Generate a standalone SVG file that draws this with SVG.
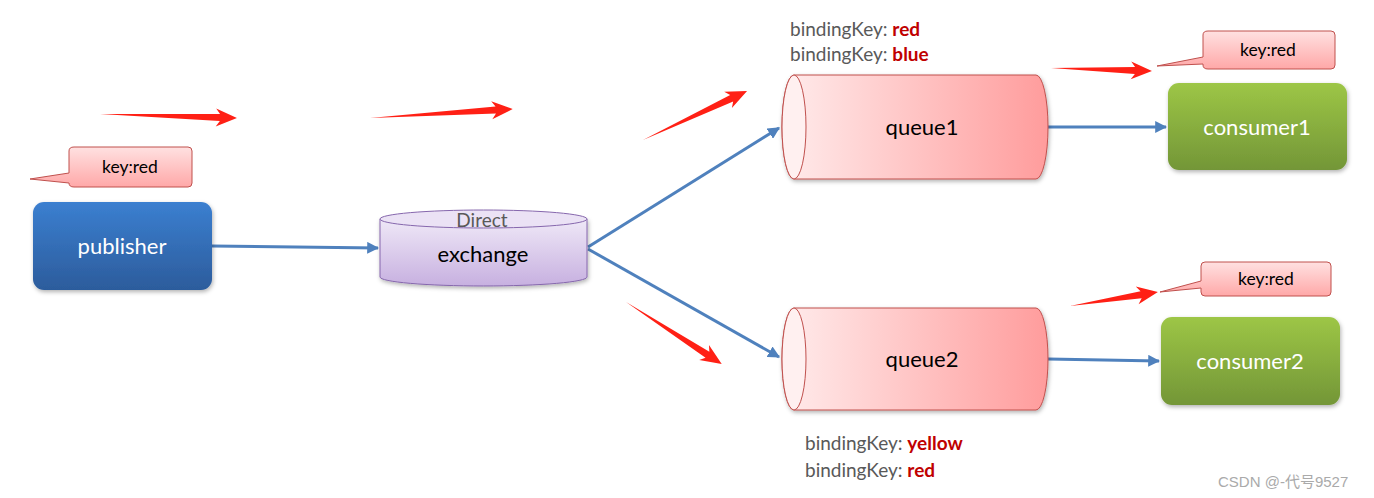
<svg xmlns="http://www.w3.org/2000/svg" width="1374" height="498" viewBox="0 0 1374 498">
<style>
.lbl{font-family:Lato,"Open Sans","Liberation Sans",sans-serif}
.wt{fill:#fff;font-size:22px;text-anchor:middle}
.bk{fill:#000;font-size:22px;text-anchor:middle}
.call{fill:url(#gCall);stroke:#c0504d;stroke-width:1}
.ck{fill:#000;font-size:17.5px;text-anchor:middle}
.bind{fill:#595959;font-size:19px}
.bv{fill:#c00000;font-weight:bold}
.conn{stroke:#4f81bd;stroke-width:3;fill:none;marker-end:url(#ah)}
.red{fill:#ff2015}
</style>
<defs>
<linearGradient id="gBlue" x1="0" y1="0" x2="0" y2="1"><stop offset="0" stop-color="#3b7fd0"/><stop offset="1" stop-color="#2c5c9c"/></linearGradient>
<linearGradient id="gGreen" x1="0" y1="0" x2="0" y2="1"><stop offset="0" stop-color="#9dc646"/><stop offset="1" stop-color="#739637"/></linearGradient>
<linearGradient id="gCall" x1="0" y1="0" x2="0" y2="1"><stop offset="0" stop-color="#ffe1e1"/><stop offset="1" stop-color="#ffa8a8"/></linearGradient>
<linearGradient id="gQueue" x1="0" y1="0" x2="1" y2="0"><stop offset="0" stop-color="#ffecec"/><stop offset="1" stop-color="#ff9c9c"/></linearGradient>
<linearGradient id="gEx" x1="0" y1="0" x2="0" y2="1"><stop offset="0" stop-color="#efe8f7"/><stop offset="1" stop-color="#c7b0e0"/></linearGradient>
<filter id="sh" x="-10%" y="-10%" width="125%" height="130%"><feDropShadow dx="1" dy="2" stdDeviation="2" flood-color="#000" flood-opacity="0.3"/></filter>
<marker id="ah" viewBox="0 0 10 10" refX="9" refY="5" markerWidth="4" markerHeight="4" orient="auto" markerUnits="strokeWidth"><path d="M0,0 L10,5 L0,10 z" fill="#4f81bd"/></marker>
</defs>

<g id="connectors">
<path class="conn" d="M212,246 L378,248"/>
<path class="conn" d="M588,247 L779,128"/>
<path class="conn" d="M588,249 L779,357"/>
<path class="conn" d="M1048,127 L1166,127"/>
<path class="conn" d="M1048,359 L1159,361"/>
</g>

<g id="red-arrows">
<path class="red" transform="translate(100,114) rotate(1.67)" d="M0,0 L120,-3.5 L116,-9 L137,0 L116,9 L120,3.5 Z"/>
<path class="red" transform="translate(370,118) rotate(-3.6)" d="M0,0 L126,-3.5 L122,-9 L143,0 L122,9 L126,3.5 Z"/>
<path class="red" transform="translate(643,140) rotate(-25.2)" d="M0,0 L98,-3.5 L94,-9 L115,0 L94,9 L98,3.5 Z"/>
<path class="red" transform="translate(626,302) rotate(32.9)" d="M0,0 L97,-3.5 L93,-9 L114,0 L93,9 L97,3.5 Z"/>
<path class="red" transform="translate(1051,68) rotate(1.7)" d="M0,0 L84,-3.5 L80,-9 L101,0 L80,9 L84,3.5 Z"/>
<path class="red" transform="translate(1070,306) rotate(-9)" d="M0,0 L72,-3.5 L68,-9 L89,0 L68,9 L72,3.5 Z"/>
</g>

<g id="callout-publisher">
<path class="call" d="M74,147 H188 Q192,147 192,151 V183 Q192,187 188,187 H74 Q69,187 69,183 V183 L30,179 L69,173 V151 Q69,147 74,147 Z"/>
<text class="lbl ck" x="130" y="173">key:red</text>
</g>

<g id="publisher">
<rect x="33" y="202" width="179" height="88" rx="11" fill="url(#gBlue)" filter="url(#sh)"/>
<text class="lbl wt" x="122" y="254">publisher</text>
</g>

<g id="exchange">
<path d="M380,219 V277 A103.5,9 0 0 0 587,277 V219 Z" fill="url(#gEx)" stroke="#8667ad" stroke-width="1" filter="url(#sh)"/>
<ellipse cx="483.5" cy="219" rx="103.5" ry="9" fill="#ebe2f5" stroke="#8667ad" stroke-width="1"/>
<text class="lbl" x="482" y="227" font-size="19" fill="#595959" text-anchor="middle">Direct</text>
<text class="lbl bk" x="483" y="262">exchange</text>
</g>

<g id="queue1">
<text class="lbl bind" x="790" y="36">bindingKey: <tspan class="bv">red</tspan></text>
<text class="lbl bind" x="790" y="61">bindingKey: <tspan class="bv">blue</tspan></text>
<path d="M794,75 H1036 A12,52 0 0 1 1036,179 H794 A12,52 0 0 1 794,75 Z" fill="url(#gQueue)" stroke="#c0504d" stroke-width="1" filter="url(#sh)"/>
<ellipse cx="794" cy="127" rx="12" ry="52" fill="#fff0f0" stroke="#c0504d" stroke-width="1"/>
<text class="lbl bk" x="922" y="135">queue1</text>
</g>

<g id="queue2">
<path d="M794,308 H1036 A12,51 0 0 1 1036,410 H794 A12,51 0 0 1 794,308 Z" fill="url(#gQueue)" stroke="#c0504d" stroke-width="1" filter="url(#sh)"/>
<ellipse cx="794" cy="359" rx="12" ry="51" fill="#fff0f0" stroke="#c0504d" stroke-width="1"/>
<text class="lbl bk" x="922" y="367">queue2</text>
<text class="lbl bind" x="805" y="450">bindingKey: <tspan class="bv">yellow</tspan></text>
<text class="lbl bind" x="805" y="477">bindingKey: <tspan class="bv">red</tspan></text>
</g>

<g id="callout-consumer1">
<path class="call" d="M1208,31 H1331 Q1335,31 1335,35 V65 Q1335,69 1331,69 H1208 Q1203,69 1203,65 V64 L1157,66 L1203,57 V35 Q1203,31 1208,31 Z"/>
<text class="lbl ck" x="1268" y="56">key:red</text>
</g>

<g id="consumer1">
<rect x="1168" y="83" width="179" height="87" rx="11" fill="url(#gGreen)" filter="url(#sh)"/>
<text class="lbl wt" x="1257" y="135">consumer1</text>
</g>

<g id="callout-consumer2">
<path class="call" d="M1205,262 H1327 Q1331,262 1331,266 V292 Q1331,296 1327,296 H1205 Q1201,296 1201,292 V288 L1160,292 L1201,281 V266 Q1201,262 1205,262 Z"/>
<text class="lbl ck" x="1266" y="285">key:red</text>
</g>

<g id="consumer2">
<rect x="1161" y="317" width="179" height="88" rx="11" fill="url(#gGreen)" filter="url(#sh)"/>
<text class="lbl wt" x="1250" y="369">consumer2</text>
</g>

<text x="1218" y="487" font-family="'Liberation Sans','Noto Sans CJK SC',sans-serif" font-size="15" fill="#aaaaaa">CSDN @-代号9527</text>
</svg>
